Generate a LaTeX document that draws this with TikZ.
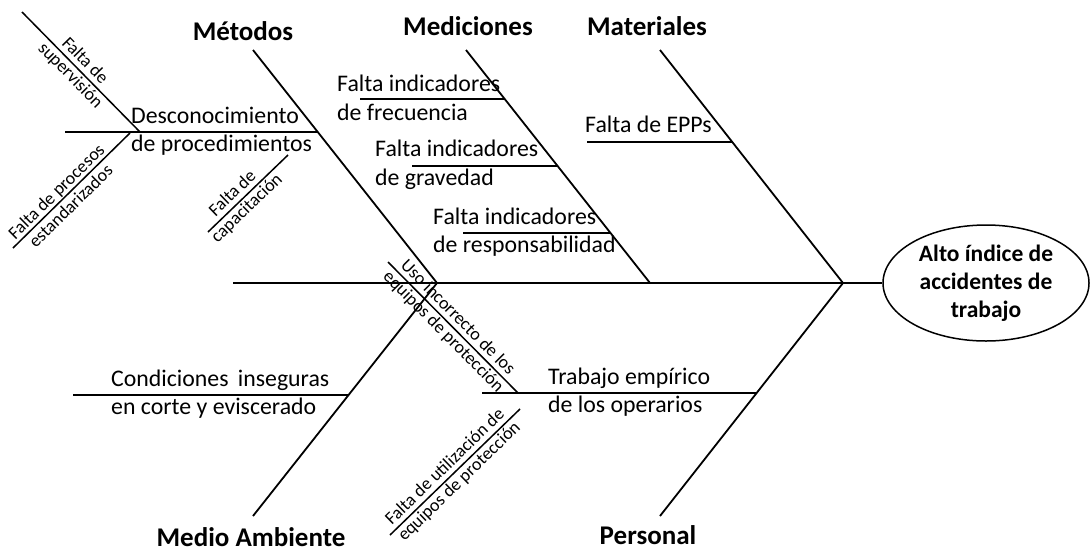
\documentclass[tikz,border=0pt]{standalone}
\usepackage{fontspec}
\setmainfont{Carlito}
\usepackage{tikz}
\usetikzlibrary{shapes.geometric}
\tikzset{
  bone/.style={line width=1.8pt, draw=black},
  twig/.style={line width=1.5pt, draw=black},
  cat/.style={font=\bfseries\fontsize{27}{32}\selectfont, inner sep=0pt, anchor=base},
  cause/.style={font=\fontsize{23.8}{28.5}\selectfont, align=left, inner sep=0pt, anchor=west},
  subc/.style={font=\fontsize{18}{20.5}\selectfont, align=center, inner sep=0pt, sloped},
  effect/.style={ellipse, draw, line width=1.5pt, minimum width=206pt, minimum height=116pt,
                 inner sep=0pt, align=center, font=\bfseries\fontsize{23.5}{28}\selectfont},
}

\begin{document}
\begin{tikzpicture}[x=1pt, y=-1pt]
  \useasboundingbox (0,0) rectangle (1091,552);
  % spine and effect
  \node[effect] (efecto) at (986,283) {Alto índice de\\accidentes de\\trabajo};
  \coordinate (cola)   at (233,283);
  \coordinate (cabeza) at (843,283);
  \draw[bone] (cola) -- (cabeza) -- (efecto);
  % main bones
  \coordinate (met)  at (253,50);  \coordinate (metS) at (437,283);
  \coordinate (med)  at (466,50);  \coordinate (medS) at (650,283);
  \coordinate (mat)  at (660,50);
  \coordinate (amb)  at (253,516);
  \coordinate (per)  at (660,516);
  \draw[bone] (met) -- (metS);
  \draw[bone] (med) -- (medS);
  \draw[bone] (mat) -- (cabeza);
  \draw[bone] (amb) -- (metS);
  \draw[bone] (per) -- (cabeza);
  % category titles
  \node[cat] (tmet) at (243,40)  {Métodos};
  \node[cat] (tmed) at (468,35)  {Mediciones};
  \node[cat] (tmat) at (647,35)  {Materiales};
  \node[cat] (tamb) at (251,546) {Medio Ambiente};
  \node[cat] (tper) at (648,544) {Personal};
  % causes
  \coordinate (desc0) at (65,132);  \coordinate (desc1) at (318,132);
  \coordinate (frec0) at (360,99);  \coordinate (frec1) at (505,99);
  \coordinate (grav0) at (412,166); \coordinate (grav1) at (558,166);
  \coordinate (resp0) at (463,233); \coordinate (resp1) at (610,233);
  \coordinate (epp0)  at (587,142); \coordinate (epp1)  at (732,142);
  \coordinate (cond0) at (73,395);  \coordinate (cond1) at (349,395);
  \coordinate (trab0) at (482,393); \coordinate (trab1) at (756,393);
  \draw[bone] (desc0) -- (desc1);
  \draw[bone] (frec0) -- (frec1);
  \draw[bone] (grav0) -- (grav1);
  \draw[bone] (resp0) -- (resp1);
  \draw[bone] (epp0)  -- (epp1);
  \draw[bone] (cond0) -- (cond1);
  \draw[bone] (trab0) -- (trab1);
  \node[cause] (ldesc) at (131,131) {Desconocimiento\\de procedimientos};
  \node[cause] (lfrec) at (337,98)  {Falta indicadores\\de frecuencia};
  \node[cause] (lgrav) at (375,165) {Falta indicadores\\de gravedad};
  \node[cause] (lresp) at (433,232) {Falta indicadores\\de responsabilidad};
  \node[cause, anchor=base west] (lepp) at (585,132) {Falta de EPPs};
  \node[cause] (lcond) at (111,394) {Condiciones\, inseguras\\en corte y eviscerado};
  \node[cause] (ltrab) at (548,392) {Trabajo empírico\\de los operarios};
  % sub causes
  \coordinate (sup0)  at (22,12);   \coordinate (sup1)  at (140,132);
  \coordinate (proc0) at (13,248);  \coordinate (proc1) at (130,133);
  \coordinate (cap0)  at (208,232); \coordinate (cap1)  at (288,155);
  \coordinate (uso0)  at (388,262); \coordinate (uso1)  at (518,393);
  \coordinate (uti0)  at (390,535); \coordinate (uti1)  at (520,409);
  \draw[twig] (sup0)  -- node[subc, pos=0.47] (lsup)  {Falta de\\supervisión} (sup1);
  \draw[twig] (proc0) -- node[subc, pos=0.43] (lproc) {Falta de procesos\\estandarizados} (proc1);
  \draw[twig] (cap0)  -- node[subc, pos=0.40] (lcap)  {Falta de\\capacitación} (cap1);
  \draw[twig] (uso0)  -- node[subc, pos=0.48] (luso)  {Uso incorrecto de los\\equipos de protección} (uso1);
  \draw[twig] (uti0)  -- node[subc, pos=0.48] (luti)  {Falta de utilización de\\equipos de protección} (uti1);
\end{tikzpicture}
\end{document}
